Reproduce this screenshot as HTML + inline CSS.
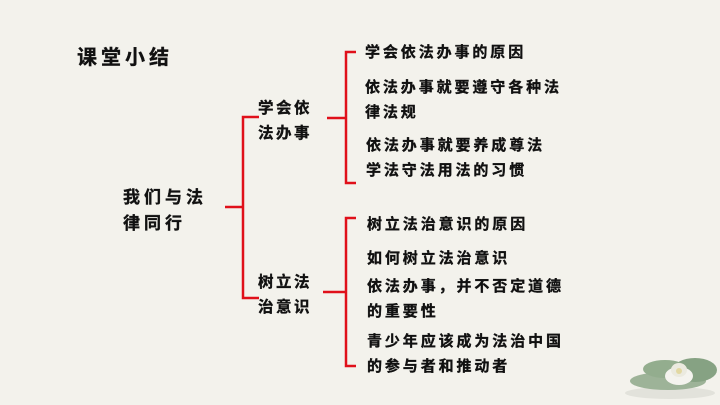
<!DOCTYPE html>
<html><head><meta charset="utf-8"><style>
html,body{margin:0;padding:0;background:#f3f2ec;}
svg{display:block}
text{font-family:"Liberation Sans","Noto Sans CJK SC",sans-serif;font-weight:bold;fill:#111;stroke:#111;stroke-width:0.35;}
</style></head><body>
<svg width="720" height="405" viewBox="0 0 720 405">
<rect width="720" height="405" fill="#f3f2ec"/>
<g fill="none" stroke="#e0101a" stroke-width="2.5">
<path d="M259 117 H243 V298 H259"/>
<path d="M225 207 H243"/>
<path d="M356 52 H346 V183 H356"/>
<path d="M327 118 H346"/>
<path d="M356 218 H346 V366 H356"/>
<path d="M323 292 H346"/>
</g>
<text x="77" y="64" font-size="20" letter-spacing="4">课堂小结</text>
<text x="123" y="203" font-size="17" letter-spacing="4">我们与法</text>
<text x="123" y="229" font-size="17" letter-spacing="4">律同行</text>
<text x="258" y="113" font-size="15.5" letter-spacing="2.5">学会依</text>
<text x="258" y="138" font-size="15.5" letter-spacing="2.5">法办事</text>
<text x="258" y="287" font-size="15.5" letter-spacing="2.5">树立法</text>
<text x="258" y="312" font-size="15.5" letter-spacing="2.5">治意识</text>
<g font-size="15" letter-spacing="2.9">
<text x="365" y="57">学会依法办事的原因</text>
<text x="365" y="92">依法办事就要遵守各种法</text>
<text x="365" y="117">律法规</text>
<text x="366" y="150">依法办事就要养成尊法</text>
<text x="366" y="175">学法守法用法的习惯</text>
<text x="367" y="229">树立法治意识的原因</text>
<text x="367" y="263">如何树立法治意识</text>
<text x="367" y="291">依法办事，并不否定道德</text>
<text x="367" y="316">的重要性</text>
<text x="367" y="346">青少年应该成为法治中国</text>
<text x="367" y="371">的参与者和推动者</text>
</g>
<g>
<ellipse cx="670" cy="393" rx="45" ry="6" fill="#e2e2db"/>
<ellipse cx="668" cy="381" rx="38" ry="9" fill="#9db398"/>
<ellipse cx="695" cy="370" rx="22" ry="12" fill="#86a283"/>
<ellipse cx="665" cy="369" rx="22" ry="9" fill="#93ad8e"/>
<ellipse cx="679" cy="376" rx="14" ry="9" fill="#f4f3ee"/>
<ellipse cx="679" cy="370" rx="8" ry="7" fill="#ebeadf"/>
<circle cx="679" cy="371" r="3" fill="#e2d8a2"/>
</g>
</svg>
</body></html>
